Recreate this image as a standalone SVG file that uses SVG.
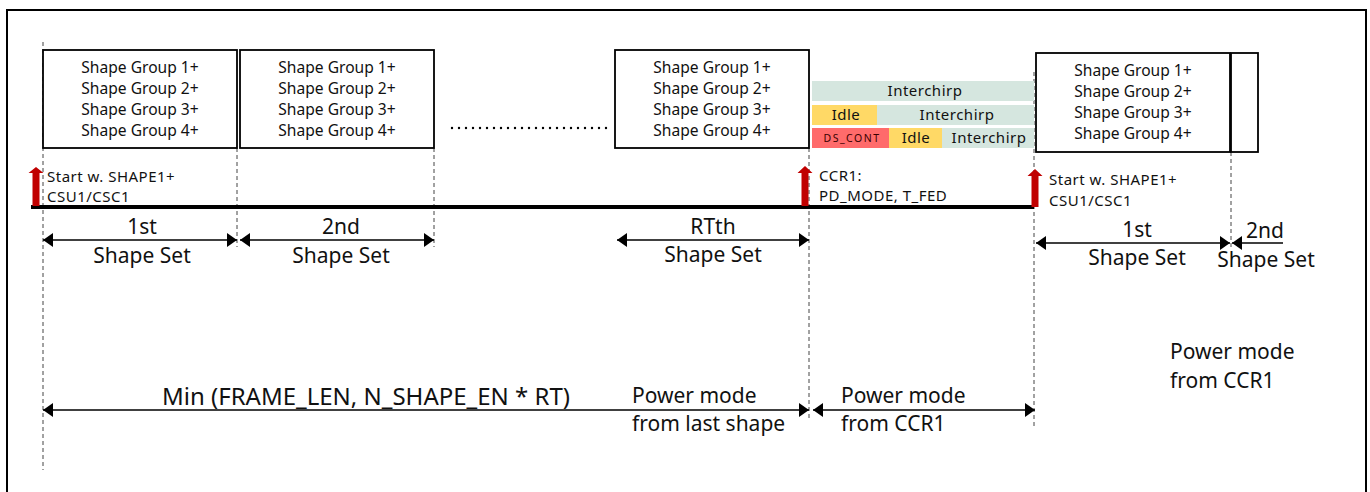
<svg xmlns="http://www.w3.org/2000/svg" width="1370" height="492" viewBox="0 0 1370 492">
<style>
text{font-family:"Noto Sans","Open Sans","DejaVu Sans",sans-serif;fill:#111}
.box{fill:#fff;stroke:#000;stroke-width:1.8}
.bt{font-size:15.6px;text-anchor:middle}
.lbl{font-size:15px;letter-spacing:0.5px}
.dim{font-size:21px;text-anchor:middle}
.pm{font-size:21px}
.bar{font-size:15px;text-anchor:middle;letter-spacing:0.5px}
.vdash{stroke:#444;stroke-width:1;stroke-dasharray:4 3;fill:none}
.dl{stroke:#000;stroke-width:1.5;fill:none}
.red{fill:#c00000}
.ic{fill:#d5e6df}
.idle{fill:#ffd966}
.ds{fill:#ff6b6b}
</style>
<defs>
<marker id="ah" markerUnits="userSpaceOnUse" markerWidth="11" markerHeight="15" refX="10" refY="7" orient="auto-start-reverse" viewBox="0 0 11 15">
<path d="M0,0 L10,7 L0,14 Z" fill="#000"/>
</marker>
</defs>
<rect x="7" y="10" width="1359" height="492" fill="none" stroke="#000" stroke-width="2"/>

<g id="connectors">
<line class="vdash" x1="43" y1="42" x2="43" y2="470"/>
<line class="vdash" x1="237" y1="148" x2="237" y2="247"/>
<line class="vdash" x1="434" y1="148" x2="434" y2="247"/>
<line class="vdash" x1="809" y1="148" x2="809" y2="419"/>
<line class="vdash" x1="1034" y1="72" x2="1034" y2="429"/>
<line class="vdash" x1="1231" y1="152" x2="1231" y2="250"/>
<line x1="31" y1="207" x2="1034" y2="207" stroke="#000" stroke-width="4"/>
<line x1="452" y1="128" x2="613" y2="128" stroke="#000" stroke-width="2.4" stroke-linecap="round" stroke-dasharray="0 7"/>
<line class="dl" x1="43" y1="240" x2="237" y2="240" marker-start="url(#ah)" marker-end="url(#ah)"/>
<line class="dl" x1="240" y1="240" x2="434" y2="240" marker-start="url(#ah)" marker-end="url(#ah)"/>
<line class="dl" x1="617" y1="240" x2="809" y2="240" marker-start="url(#ah)" marker-end="url(#ah)"/>
<line class="dl" x1="1036" y1="243" x2="1230" y2="243" marker-start="url(#ah)" marker-end="url(#ah)"/>
<line class="dl" x1="1232" y1="243" x2="1283" y2="243" marker-start="url(#ah)"/>
<line class="dl" x1="43" y1="410" x2="809" y2="410" marker-start="url(#ah)" marker-end="url(#ah)"/>
<line class="dl" x1="813" y1="410" x2="1035" y2="410" marker-start="url(#ah)" marker-end="url(#ah)"/>
<polygon class="red" points="28.5,173 36,167 43.5,173 39.5,173 39.5,206 32.5,206 32.5,173"/>
<polygon class="red" points="797.5,173 805,166 812.5,173 808.5,173 808.5,206 801.5,206 801.5,173"/>
<polygon class="red" points="1027.5,176 1035,169 1042.5,176 1038.5,176 1038.5,207 1031.5,207 1031.5,176"/>
</g>

<g id="set1">
<rect class="box" x="43" y="50" width="194" height="98"/>
<text class="bt" x="140" y="73">Shape Group 1+</text>
<text class="bt" x="140" y="94">Shape Group 2+</text>
<text class="bt" x="140" y="115">Shape Group 3+</text>
<text class="bt" x="140" y="136">Shape Group 4+</text>
</g>
<g id="set2">
<rect class="box" x="240" y="50" width="194" height="98"/>
<text class="bt" x="337" y="73">Shape Group 1+</text>
<text class="bt" x="337" y="94">Shape Group 2+</text>
<text class="bt" x="337" y="115">Shape Group 3+</text>
<text class="bt" x="337" y="136">Shape Group 4+</text>
</g>
<g id="setRT">
<rect class="box" x="615" y="50" width="194" height="98"/>
<text class="bt" x="712" y="73">Shape Group 1+</text>
<text class="bt" x="712" y="94">Shape Group 2+</text>
<text class="bt" x="712" y="115">Shape Group 3+</text>
<text class="bt" x="712" y="136">Shape Group 4+</text>
</g>
<g id="set1b">
<rect class="box" x="1036" y="53" width="194" height="99"/>
<text class="bt" x="1133" y="76">Shape Group 1+</text>
<text class="bt" x="1133" y="97">Shape Group 2+</text>
<text class="bt" x="1133" y="118">Shape Group 3+</text>
<text class="bt" x="1133" y="139">Shape Group 4+</text>
</g>
<g id="set2b">
<rect class="box" x="1231" y="53" width="27" height="99"/>
</g>

<g id="bars">
<rect class="ic" x="812" y="81" width="222" height="20"/>
<text class="bar" x="925" y="96">Interchirp</text>
<rect class="idle" x="812" y="105" width="65" height="20"/>
<rect class="ic" x="877" y="105" width="157" height="20"/>
<text class="bar" x="846" y="120">Idle</text>
<text class="bar" x="957" y="120">Interchirp</text>
<rect class="ds" x="812" y="128" width="77" height="20"/>
<rect class="idle" x="889" y="128" width="53" height="20"/>
<rect class="ic" x="942" y="128" width="92" height="20"/>
<text x="852" y="142" style="font-size:10.5px;text-anchor:middle;letter-spacing:1.5px;fill:#3a0000">DS_CONT</text>
<text class="bar" x="916" y="143">Idle</text>
<text class="bar" x="989" y="143">Interchirp</text>
</g>

<g id="labels">
<text class="lbl" x="47" y="182">Start w. SHAPE1+</text>
<text class="lbl" x="47" y="202">CSU1/CSC1</text>
<text class="lbl" x="819" y="181">CCR1:</text>
<text class="lbl" x="819" y="201">PD_MODE, T_FED</text>
<text class="lbl" x="1049" y="185">Start w. SHAPE1+</text>
<text class="lbl" x="1049" y="206">CSU1/CSC1</text>
</g>

<g id="dims">
<text class="dim" x="142" y="234">1st</text>
<text class="dim" x="142" y="263">Shape Set</text>
<text class="dim" x="341" y="234">2nd</text>
<text class="dim" x="341" y="263">Shape Set</text>
<text class="dim" x="713" y="234">RTth</text>
<text class="dim" x="713" y="262">Shape Set</text>
<text class="dim" x="1137" y="237">1st</text>
<text class="dim" x="1137" y="265">Shape Set</text>
<text class="dim" x="1265" y="238">2nd</text>
<text class="dim" x="1266" y="267">Shape Set</text>
</g>

<g id="bottom">
<text x="366" y="405" style="font-size:24px;text-anchor:middle">Min (FRAME_LEN, N_SHAPE_EN * RT)</text>
<text class="pm" x="632" y="403">Power mode</text>
<text class="pm" x="632" y="431">from last shape</text>
<text class="pm" x="841" y="403">Power mode</text>
<text class="pm" x="841" y="431">from CCR1</text>
<text class="pm" x="1170" y="359">Power mode</text>
<text class="pm" x="1170" y="388">from CCR1</text>
</g>
</svg>
